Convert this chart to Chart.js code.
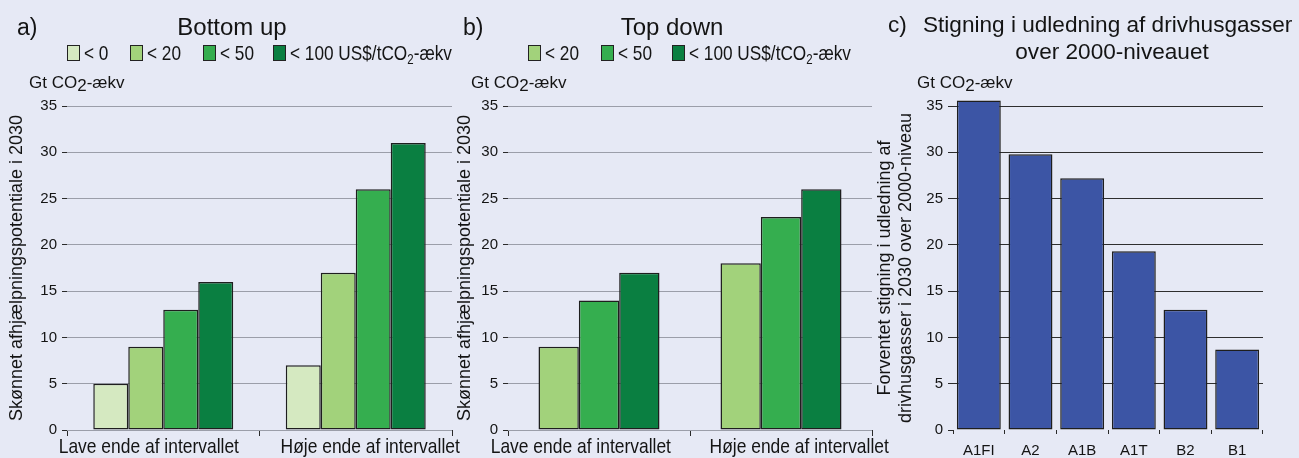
<!DOCTYPE html>
<html>
<head>
<meta charset="utf-8">
<script src="https://cdn.jsdelivr.net/npm/chart.js@4/dist/chart.umd.min.js"></script>
<style>
  html, body { margin: 0; padding: 0; background: #e6e9f5; }
  #wrap { position: relative; width: 1299px; height: 458px; overflow: hidden; background: #e6e9f5;
          font-family: "Liberation Sans", Arial, sans-serif; color: #141414; }
  canvas { position: absolute; top: 0; }
  .t { position: absolute; white-space: nowrap; line-height: 1; }
  .cond { transform-origin: 0 0; transform: scaleX(0.82); }
  .sw { position: absolute; width: 11px; height: 14px; border: 1px solid #222; box-sizing: content-box; }
</style>
</head>
<body>
<div id="wrap">
  <canvas id="chartA" width="462" height="458" style="left:0px"></canvas>
  <canvas id="chartB" width="448" height="458" style="left:452px"></canvas>
  <canvas id="chartC" width="429" height="458" style="left:870px"></canvas>
</div>
<script>
// ---- data ----
const rangeCategories = ['Lave ende af intervallet', 'Høje ende af intervallet'];

// a) Bottom up, Gt CO2-ækv per price class
const bottomUpBelow0   = [5, 7];
const bottomUpBelow20  = [9, 17];
const bottomUpBelow50  = [13, 26];
const bottomUpBelow100 = [16, 31];

// b) Top down
const topDownBelow20  = [9, 18];
const topDownBelow50  = [14, 23];
const topDownBelow100 = [17, 26];

// c) increase over the 2000 level per SRES scenario
const scenarios = ['A1FI', 'A2', 'A1B', 'A1T', 'B2', 'B1'];
const emissionIncrease = [35.6, 29.8, 27.2, 19.3, 13.0, 8.7];

const priceLabels = ['< 0', '< 20', '< 50', '< 100 US$/tCO₂-ækv'];
const yAxisMin = 0, yAxisMax = 35, yAxisStep = 5;

// ---- styling ----
const colBelow0 = '#d5e9c1', colBelow20 = '#a2d27b', colBelow50 = '#35ae4f', colBelow100 = '#0a7f41';
const colScenario = '#3c55a5';
const edge = '#1e1e1e';
const gridGrey = '#9b9ea9';
const ink = '#141414';
const sans = "'Liberation Sans', Arial, sans-serif";

const wrap = document.getElementById('wrap');
function text(html, x, baseline, size, opts = {}) {
  const d = document.createElement('div');
  d.className = 't';
  d.innerHTML = html;
  d.style.fontSize = size + 'px';
  d.style.left = x + 'px';
  d.style.top = (baseline - 0.8465 * size) + 'px';
  if (opts.center) d.style.transform = 'translateX(-50%)';
  if (opts.cond) d.classList.add('cond');
  wrap.appendChild(d);
}
function legendItem(color, label, x) {
  const s = document.createElement('div');
  s.className = 'sw';
  s.style.left = x + 'px';
  s.style.top = '45px';
  s.style.background = color;
  wrap.appendChild(s);
  const html = label.replace('CO₂', 'CO<span style="font-size:14px;position:relative;top:4px">2</span>');
  text(html, x + 17, 60, 21, { cond: true });
}

// headings
text('a)', 17, 35, 23);
text('Bottom up', 232, 35, 24, { center: true });
text('b)', 463, 35, 23);
text('Top down', 672, 35, 24, { center: true });
text('c)', 888, 33, 22.6);
text('Stigning i udledning af drivhusgasser', 923, 33, 22.6);
text('over 2000-niveauet', 1112, 60, 22.6, { center: true });

const unitHtml = 'Gt CO<span style="position:relative;top:3px">2</span>-ækv';
text(unitHtml, 29, 88, 17);
text(unitHtml, 471, 88, 17);
text(unitHtml, 917, 88, 17);

// legends
const aColors = [colBelow0, colBelow20, colBelow50, colBelow100];
[67, 130, 203, 273].forEach((x, i) => legendItem(aColors[i], priceLabels[i], x));
const bColors = [colBelow20, colBelow50, colBelow100];
[528, 601, 672].forEach((x, i) => legendItem(bColors[i], priceLabels[i + 1], x));

// Category labels in a condensed face, pushed a little outwards from the middle
// of the plot so the two long labels keep some air between them.
const condensedCategoryLabels = {
  id: 'condensedCategoryLabels',
  afterDraw(chart, args, opts) {
    if (!opts.enabled) return;
    const sx = chart.scales.x;
    const ctx = chart.ctx;
    const labels = chart.data.labels;
    const mid = (sx.left + sx.right) / 2;
    const catW = (sx.right - sx.left) / labels.length;
    const baseline = chart.chartArea.bottom + opts.baselineGap;
    ctx.save();
    ctx.fillStyle = ink;
    ctx.font = opts.size + 'px ' + sans;
    ctx.textAlign = 'center';
    ctx.textBaseline = 'alphabetic';
    labels.forEach((lab, i) => {
      const px = sx.getPixelForValue(i);
      const x = px + Math.sign(px - mid) * catW * opts.spread;
      ctx.save();
      ctx.translate(x, baseline);
      ctx.scale(opts.squeeze, 1);
      ctx.fillText(lab, 0, 0);
      ctx.restore();
    });
    ctx.restore();
  }
};

// ---- charts ----
function yScale(width, titleText, titlePad, gridColor, titleLH) {
  return {
    min: yAxisMin, max: yAxisMax,
    afterFit: s => { s.width = width; },
    border: { display: false },
    grid: { color: gridColor, tickColor: '#2a2a2a', tickLength: 5, lineWidth: 1 },
    ticks: { stepSize: yAxisStep, color: ink, padding: 5, font: { family: sans, size: 15 } },
    title: { display: true, text: titleText, color: ink, padding: { top: titlePad, bottom: 0 },
             font: { family: sans, size: 18, lineHeight: titleLH || 1.2 } }
  };
}
function xScale(fontSize, tickLen, pad, showTicks) {
  return {
    afterFit: s => { s.height = 28; },
    offset: true,
    border: { display: false },
    grid: { display: true, drawOnChartArea: false, offset: true, tickLength: tickLen,
            color: '#2a2a2a', tickColor: '#2a2a2a' },
    ticks: { display: showTicks, color: ink, padding: pad, maxRotation: 0, autoSkip: false,
             font: { family: sans, size: fontSize } }
  };
}
function bars(label, data, color) {
  return { label, data, backgroundColor: color, borderColor: edge, borderWidth: 1.5, borderSkipped: false };
}
function basePlugins(withCategoryLabels, spread) {
  return {
    legend: { display: false },
    tooltip: { enabled: false },
    condensedCategoryLabels: { enabled: withCategoryLabels, size: 21, squeeze: 0.83, spread: spread, baselineGap: 23 }
  };
}
Chart.register(condensedCategoryLabels);

new Chart(document.getElementById('chartA'), {
  type: 'bar',
  data: {
    labels: rangeCategories,
    datasets: [
      bars(priceLabels[0], bottomUpBelow0, colBelow0),
      bars(priceLabels[1], bottomUpBelow20, colBelow20),
      bars(priceLabels[2], bottomUpBelow50, colBelow50),
      bars(priceLabels[3], bottomUpBelow100, colBelow100)
    ]
  },
  options: {
    responsive: false, animation: false, events: [],
    plugins: basePlugins(true, 0.075),
    layout: { padding: { top: 106, left: 0, right: 10, bottom: 0 } },
    datasets: { bar: { categoryPercentage: 0.727, barPercentage: 1 } },
    scales: {
      x: xScale(17.5, 6, 2, false),
      y: yScale(67, 'Skønnet afhjælpningspotentiale i 2030', 6, gridGrey)
    }
  }
});

new Chart(document.getElementById('chartB'), {
  type: 'bar',
  data: {
    labels: rangeCategories,
    datasets: [
      bars(priceLabels[1], topDownBelow20, colBelow20),
      bars(priceLabels[2], topDownBelow50, colBelow50),
      bars(priceLabels[3], topDownBelow100, colBelow100)
    ]
  },
  options: {
    responsive: false, animation: false, events: [],
    plugins: basePlugins(true, 0.1),
    layout: { padding: { top: 106, left: 0, right: 28, bottom: 0 } },
    datasets: { bar: { categoryPercentage: 0.665, barPercentage: 1 } },
    scales: {
      x: xScale(17.5, 6, 2, false),
      y: yScale(56, 'Skønnet afhjælpningspotentiale i 2030', 2, gridGrey)
    }
  }
});

new Chart(document.getElementById('chartC'), {
  type: 'bar',
  data: {
    labels: scenarios,
    datasets: [Object.assign(bars('Stigning', emissionIncrease, colScenario), { clip: false })]
  },
  options: {
    responsive: false, animation: false, events: [],
    plugins: basePlugins(false, 0),
    layout: { padding: { top: 106, left: 0, right: 36, bottom: 0 } },
    datasets: { bar: { categoryPercentage: 1, barPercentage: 0.85 } },
    scales: {
      x: xScale(15, 4, 8, true),
      y: yScale(83, ['Forventet stigning i udledning af', 'drivhusgasser i 2030 over 2000-niveau'], 5,
                c => (c.tick && c.tick.value === 0) ? 'rgba(0,0,0,0)' : '#2e2e2e', 1.15)
    }
  }
});
</script>
</body>
</html>
